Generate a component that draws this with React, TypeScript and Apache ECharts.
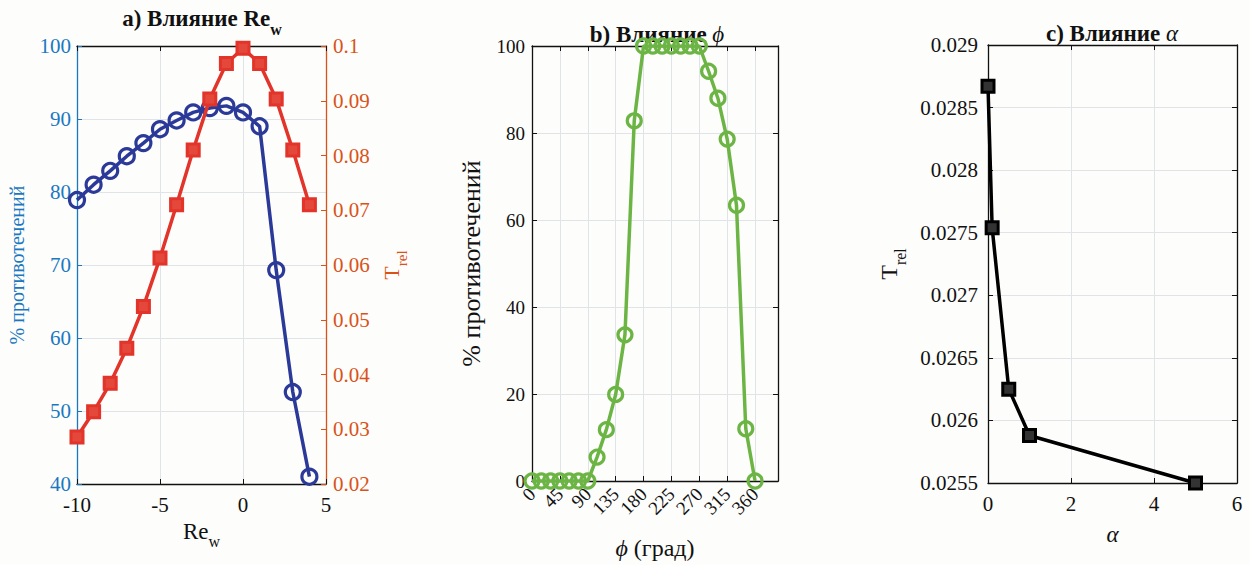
import React, { useEffect, useRef } from 'react';
import * as echarts from 'echarts';

const FONT = 'Times New Roman';

// Panel a: influence of Re_w
const reW = [-10, -9, -8, -7, -6, -5, -4, -3, -2, -1, 0, 1, 2, 3, 4];
const counterRe = [78.9, 81.0, 82.9, 84.9, 86.7, 88.6, 89.8, 90.9, 91.5, 91.8, 90.9, 89.0, 69.3, 52.6, 41.0];
const tRelRe = [0.0286, 0.0332, 0.0384, 0.0448, 0.0524, 0.0613, 0.071, 0.081, 0.0903, 0.0968, 0.0996, 0.0968, 0.0903, 0.081, 0.071];

// Panel b: influence of phi
const phiDeg = [0, 15, 30, 45, 60, 75, 90, 105, 120, 135, 150, 165, 180, 195, 210, 225, 240, 255, 270, 285, 300, 315, 330, 345, 360];
const counterPhi = [0, 0, 0, 0, 0, 0, 0, 5.5, 11.8, 19.9, 33.6, 82.8, 100, 100, 100, 100, 100, 100, 100, 94.2, 88.0, 78.6, 63.4, 12.0, 0];

// Panel c: influence of alpha
const alphaVals = [0, 0.1, 0.5, 1, 5];
const tRelAlpha = [0.02867, 0.02754, 0.02625, 0.02588, 0.0255];

const BLUE_AXIS = '#1a78c2';
const ORANGE = '#d95319';
const BLUE_LINE = '#2b3a98';
const RED_LINE = '#e2342a';
const GREEN = '#6cb545';
const GRID_C = '#e0e3e8';

const subRich = (size: number, color: string) => ({
  n: { fontSize: size, fontFamily: FONT, color, verticalAlign: 'top', lineHeight: size },
  s: { fontSize: Math.round(size * 0.68), fontFamily: FONT, color, verticalAlign: 'bottom', padding: [Math.round(size * 0.62), 0, 0, 0] },
});

export default function App() {
  const ref = useRef<HTMLDivElement>(null);
  useEffect(() => {
    if (!ref.current) return;
    const chart = echarts.init(ref.current, null, { renderer: 'svg' });
    const tick = (color: string) => ({ show: true, inside: true, length: 5, lineStyle: { color, width: 1 } });
    const line = (color: string) => ({ show: true, onZero: false, lineStyle: { color, width: 1.3 } });
    const split = { show: true, lineStyle: { color: GRID_C, width: 1 } };
    const lab = (color: string, size: number, extra: any = {}) => ({ color, fontSize: size, fontFamily: FONT, ...extra });
    const fmt4 = (v: number) => String(+v.toFixed(4));

    const option: any = {
      animation: false,
      backgroundColor: '#fdfdfb',
      grid: [
        { left: 77, top: 46, width: 249, height: 438 },
        { left: 532, top: 46, width: 246, height: 437 },
        { left: 988, top: 45, width: 249, height: 438 },
      ],
      xAxis: [
        {
          type: 'value', gridIndex: 0, min: -10, max: 5, interval: 5,
          axisLine: line('#111'), axisTick: tick('#111'), splitLine: split,
          axisLabel: lab('#111', 21, { margin: 10 }),
          name: '{n|Re}{s|w}', nameLocation: 'middle', nameGap: 34,
          nameTextStyle: { rich: subRich(23, '#111') },
        },
        {
          type: 'value', gridIndex: 0, position: 'top', min: -10, max: 5, interval: 5,
          axisLine: line('#111'), axisTick: tick('#111'), splitLine: { show: false }, axisLabel: { show: false },
        },
        {
          type: 'value', gridIndex: 1, min: 0, max: 397, interval: 45,
          axisLine: line('#111'), axisTick: tick('#111'), splitLine: split,
          axisLabel: lab('#111', 19, {
            rotate: 45, margin: 10, showMaxLabel: false,
            formatter: (v: number) => (v % 45 === 0 ? String(v) : ''),
          }),
          name: '{i|ϕ}{n| (град)}', nameLocation: 'middle', nameGap: 55,
          nameTextStyle: { rich: { i: { fontSize: 24, fontFamily: FONT, fontStyle: 'italic', color: '#111' }, n: { fontSize: 24, fontFamily: FONT, color: '#111' } } },
        },
        {
          type: 'value', gridIndex: 1, position: 'top', min: 0, max: 397, interval: 45,
          axisLine: line('#111'), axisTick: tick('#111'), splitLine: { show: false }, axisLabel: { show: false },
        },
        {
          type: 'value', gridIndex: 2, min: 0, max: 6, interval: 2,
          axisLine: line('#111'), axisTick: tick('#111'), splitLine: split,
          axisLabel: lab('#111', 21, { margin: 10 }),
          name: 'α', nameLocation: 'middle', nameGap: 40,
          nameTextStyle: { fontSize: 23, fontFamily: FONT, fontStyle: 'italic', color: '#111' },
        },
        {
          type: 'value', gridIndex: 2, position: 'top', min: 0, max: 6, interval: 2,
          axisLine: line('#111'), axisTick: tick('#111'), splitLine: { show: false }, axisLabel: { show: false },
        },
      ],
      yAxis: [
        {
          type: 'value', gridIndex: 0, min: 40, max: 100, interval: 10,
          axisLine: line(BLUE_AXIS), axisTick: tick(BLUE_AXIS), splitLine: split,
          axisLabel: lab(BLUE_AXIS, 21, { margin: 6 }),
          name: '% противотечений', nameLocation: 'middle', nameGap: 50,
          nameTextStyle: { fontSize: 20, fontFamily: FONT, color: BLUE_AXIS },
        },
        {
          type: 'value', gridIndex: 0, position: 'right', min: 0.02, max: 0.1, interval: 0.01,
          axisLine: line(ORANGE), axisTick: tick(ORANGE), splitLine: { show: false },
          axisLabel: lab(ORANGE, 21, { margin: 7, formatter: fmt4 }),
          name: '{n|T}{s|rel}', nameLocation: 'middle', nameGap: 54,
          nameTextStyle: { rich: subRich(22, ORANGE) },
        },
        {
          type: 'value', gridIndex: 1, min: 0, max: 100, interval: 20,
          axisLine: line('#111'), axisTick: tick('#111'), splitLine: split,
          axisLabel: lab('#111', 19, { margin: 7 }),
          name: '% противотечений', nameLocation: 'middle', nameGap: 48,
          nameTextStyle: { fontSize: 26, fontFamily: FONT, color: '#111' },
        },
        {
          type: 'value', gridIndex: 1, position: 'right', min: 0, max: 100, interval: 20,
          axisLine: line('#111'), axisTick: tick('#111'), splitLine: { show: false }, axisLabel: { show: false },
        },
        {
          type: 'value', gridIndex: 2, min: 0.0255, max: 0.029, interval: 0.0005,
          axisLine: line('#111'), axisTick: tick('#111'), splitLine: split,
          axisLabel: lab('#111', 21, { margin: 10, formatter: fmt4 }),
          name: '{n|T}{s|rel}', nameLocation: 'middle', nameGap: 80,
          nameTextStyle: { rich: subRich(24, '#111') },
        },
        {
          type: 'value', gridIndex: 2, position: 'right', min: 0.0255, max: 0.029, interval: 0.0005,
          axisLine: line('#111'), axisTick: tick('#111'), splitLine: { show: false }, axisLabel: { show: false },
        },
      ],
      series: [
        {
          type: 'line', xAxisIndex: 0, yAxisIndex: 0, z: 3,
          data: reW.map((x, i) => [x, counterRe[i]]),
          symbol: 'circle', symbolSize: 15, showSymbol: true,
          lineStyle: { color: BLUE_LINE, width: 3.5 },
          itemStyle: { color: 'rgba(255,255,255,0)', borderColor: BLUE_LINE, borderWidth: 3.2 },
        },
        {
          type: 'line', xAxisIndex: 0, yAxisIndex: 1, z: 4,
          data: reW.map((x, i) => [x, tRelRe[i]]),
          symbol: 'rect', symbolSize: 12,
          lineStyle: { color: RED_LINE, width: 3.5 },
          itemStyle: { color: '#e4483a', borderColor: RED_LINE, borderWidth: 3 },
        },
        {
          type: 'line', xAxisIndex: 2, yAxisIndex: 2,
          data: phiDeg.map((x, i) => [x, counterPhi[i]]),
          symbol: 'circle', symbolSize: 14,
          lineStyle: { color: GREEN, width: 3.5 },
          itemStyle: { color: 'rgba(255,255,255,0)', borderColor: GREEN, borderWidth: 3.2 },
        },
        {
          type: 'line', xAxisIndex: 4, yAxisIndex: 4,
          data: alphaVals.map((x, i) => [x, tRelAlpha[i]]),
          symbol: 'rect', symbolSize: 12,
          lineStyle: { color: '#000', width: 3.5 },
          itemStyle: { color: '#333', borderColor: '#000', borderWidth: 3 },
        },
      ],
      graphic: [
        {
          type: 'text', x: 202, y: 22,
          style: {
            text: '{t|a) Влияние Re}{s|w}', align: 'center', verticalAlign: 'middle',
            rich: {
              t: { fontSize: 23, fontWeight: 'bold', fontFamily: FONT, fill: '#111', verticalAlign: 'top', lineHeight: 23 },
              s: { fontSize: 16, fontWeight: 'bold', fontFamily: FONT, fill: '#111', verticalAlign: 'bottom', padding: [14, 0, 0, 0] },
            },
          },
        },
        {
          type: 'text', x: 657, y: 34,
          style: {
            text: '{t|b) Влияние }{i|ϕ}', align: 'center', verticalAlign: 'middle',
            rich: {
              t: { fontSize: 23, fontWeight: 'bold', fontFamily: FONT, fill: '#111' },
              i: { fontSize: 23, fontStyle: 'italic', fontFamily: FONT, fill: '#111' },
            },
          },
        },
        {
          type: 'text', x: 1112, y: 33,
          style: {
            text: '{t|c) Влияние }{i|α}', align: 'center', verticalAlign: 'middle',
            rich: {
              t: { fontSize: 23, fontWeight: 'bold', fontFamily: FONT, fill: '#111' },
              i: { fontSize: 23, fontStyle: 'italic', fontFamily: FONT, fill: '#111' },
            },
          },
        },
      ],
    };
    chart.setOption(option);
    return () => chart.dispose();
  }, []);
  return <div ref={ref} style={{ position: 'fixed', left: 0, top: 0, width: 1250, height: 565 }} />;
}
